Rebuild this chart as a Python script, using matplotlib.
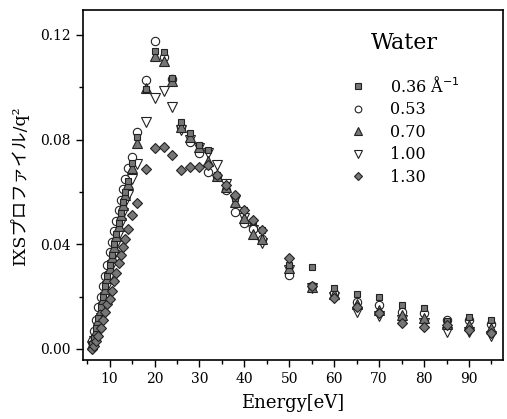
import matplotlib
matplotlib.use("Agg")
import matplotlib.pyplot as plt
from matplotlib.ticker import MultipleLocator

# energy grid [eV]
energy = [6, 6.5, 7, 7.5, 8, 8.5, 9, 9.5, 10, 10.5, 11, 11.5, 12, 12.5, 13, 13.5, 14, 15,
          16, 18, 20, 22, 24, 26, 28, 30, 32, 34, 36, 38, 40, 42, 44,
          50, 55, 60, 65, 70, 75, 80, 85, 90, 95]

# IXS profile / q^2 for each momentum transfer
q036 = [0.002, 0.004, 0.008, 0.012, 0.016, 0.020, 0.024, 0.028, 0.032, 0.036, 0.040, 0.044,
        0.048, 0.052, 0.056, 0.060, 0.064, 0.071,
        0.081, 0.0995, 0.114, 0.1135, 0.1035, 0.0868, 0.0824, 0.0779, 0.076, 0.0665, 0.0627,
        0.0576, 0.0531, 0.049, 0.0455,
        0.032, 0.0312, 0.0232, 0.0209, 0.020, 0.0168, 0.0155, 0.0108, 0.0123, 0.0111]
q053 = [0.003, 0.007, 0.011, 0.016, 0.020, 0.024, 0.028, 0.032, 0.037, 0.041, 0.045, 0.049,
        0.053, 0.057, 0.061, 0.065, 0.069, 0.0735,
        0.083, 0.1028, 0.1177, 0.1117, 0.103, 0.085, 0.0792, 0.0749, 0.0677, 0.066, 0.0607,
        0.0525, 0.048, 0.046, 0.042,
        0.0283, 0.024, 0.0214, 0.0181, 0.0168, 0.0143, 0.0136, 0.011, 0.0109, 0.0095]
q070 = [0.002, 0.004, 0.007, 0.011, 0.015, 0.019, 0.023, 0.027, 0.031, 0.035, 0.039, 0.043,
        0.047, 0.051, 0.055, 0.059, 0.063, 0.069,
        0.0788, 0.0996, 0.112, 0.110, 0.1025, 0.085, 0.081, 0.077, 0.072, 0.066, 0.062,
        0.056, 0.050, 0.044, 0.042,
        0.031, 0.0235, 0.021, 0.017, 0.015, 0.013, 0.012, 0.0095, 0.009, 0.008]
q100 = [0.001, 0.003, 0.005, 0.009, 0.012, 0.016, 0.020, 0.024, 0.028, 0.032, 0.036, 0.040,
        0.044, 0.048, 0.052, 0.056, 0.059, 0.065,
        0.0707, 0.0868, 0.096, 0.0987, 0.0926, 0.0837, 0.080, 0.0766, 0.075, 0.0703, 0.063,
        0.057, 0.050, 0.0455, 0.0404,
        0.0302, 0.0233, 0.020, 0.0143, 0.0125, 0.011, 0.010, 0.0066, 0.0065, 0.005]
q130 = [0.000, 0.001, 0.003, 0.005, 0.008, 0.011, 0.014, 0.017, 0.019, 0.022, 0.026, 0.029,
        0.033, 0.036, 0.039, 0.042, 0.046, 0.051,
        0.0557, 0.0687, 0.0767, 0.0772, 0.074, 0.0684, 0.0694, 0.0697, 0.0703, 0.0665, 0.0627,
        0.0588, 0.0531, 0.0493, 0.0455,
        0.0346, 0.0241, 0.0194, 0.0162, 0.0136, 0.0098, 0.0085, 0.009, 0.0073, 0.006]

labels = ["0.36 Å$^{-1}$", "0.53", "0.70", "1.00", "1.30"]

SERIF = "DejaVu Serif"
GREY = "#767676"
EDGE = "#222222"

fig = plt.figure(figsize=(5.07, 4.19), dpi=100)
ax = fig.add_axes([0.163, 0.141, 0.8285, 0.835])

styles = [
    dict(marker="s", ms=5.0, mfc=GREY, mec=EDGE),
    dict(marker="o", ms=6.0, mfc="white", mec=EDGE),
    dict(marker="^", ms=6.5, mfc=GREY, mec=EDGE),
    dict(marker="v", ms=6.5, mfc="white", mec=EDGE),
    dict(marker="D", ms=5.5, mfc=GREY, mec=EDGE),
]
series = [q036, q053, q070, q100, q130]
order = [3, 1, 2, 0, 4]  # drawing order, filled markers on top
handles = [None] * 5
for i in order:
    h, = ax.plot(energy, series[i], ls="none", mew=0.8, label=labels[i], **styles[i])
    handles[i] = h

ax.set_xlim(4.0, 97.5)
ax.set_ylim(-0.0042, 0.1295)
ax.xaxis.set_major_locator(MultipleLocator(10))
ax.xaxis.set_minor_locator(MultipleLocator(5))
ax.yaxis.set_major_locator(MultipleLocator(0.04))
ax.yaxis.set_minor_locator(MultipleLocator(0.02))
ax.set_xticks(range(10, 100, 10))
ax.tick_params(which="both", direction="out", top=False, right=False, width=1.0)
ax.tick_params(which="major", length=5, labelsize=10)
ax.tick_params(which="minor", length=3)
for lab in ax.get_xticklabels() + ax.get_yticklabels():
    lab.set_fontfamily(SERIF)
ax.yaxis.set_major_formatter(matplotlib.ticker.FormatStrFormatter("%.2f"))
for sp in ax.spines.values():
    sp.set_linewidth(1.2)

ax.set_xlabel("Energy[eV]", fontsize=13, family=SERIF, labelpad=6)
ax.set_ylabel("IXSプロファイル/q²", fontsize=12.5,
              family=["DejaVu Serif", "Noto Sans CJK JP"], labelpad=8)

leg = ax.legend(handles=handles, loc="upper left", bbox_to_anchor=(0.603, 0.83),
                frameon=False, prop={"family": SERIF, "size": 11.5},
                handlelength=2.0, handletextpad=1.0, labelspacing=0.34,
                markerscale=0.8, borderaxespad=0)
ax.text(0.767, 0.906, "Water", transform=ax.transAxes, ha="center", va="center",
        fontsize=16, family=SERIF)

fig.savefig("out.png", dpi=100, facecolor="white")
